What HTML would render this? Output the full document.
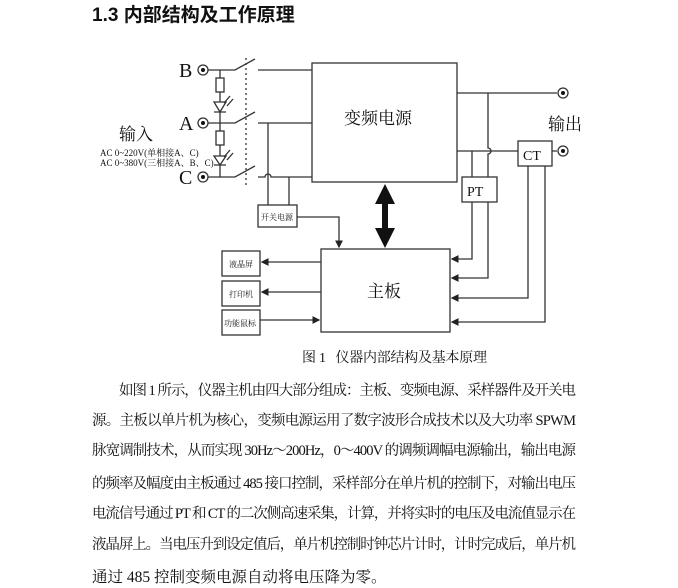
<!DOCTYPE html>
<html><head><meta charset="utf-8"><style>
body{margin:0;width:678px;height:588px;background:#fff;position:relative;overflow:hidden}
</style></head><body>
<div style="position:absolute;left:92px;top:0px;font-family:'Liberation Sans','Noto Sans CJK SC',sans-serif;font-weight:bold;font-size:19px;color:#111">1.3 内部结构及工作原理</div>
<svg width="678" height="588" style="position:absolute;left:0;top:0" font-family="Liberation Serif,Noto Serif CJK SC,serif">
<defs><marker id="a" markerWidth="6" markerHeight="6" refX="5" refY="3" orient="auto"><path d="M0,0L6,3L0,6z" fill="#222"/></marker></defs>
<g stroke="#333" stroke-width="1.3" fill="none">
<rect x="312" y="63" width="145" height="119"/>
<rect x="321" y="249" width="129" height="83"/>
<rect x="462" y="177" width="35" height="25"/>
<rect x="518" y="141" width="34" height="25"/>
<rect x="258" y="205" width="39" height="22"/>
<rect x="222" y="251" width="38" height="25"/>
<rect x="222" y="281" width="38" height="25"/>
<rect x="222" y="310" width="38" height="25"/>
<circle cx="203" cy="70" r="5"/><circle cx="203" cy="123" r="5"/><circle cx="203" cy="177" r="5"/>
<path d="M208 70H235L255 59M258 70H312"/>
<path d="M208 123H235L255 112M258 123H312"/>
<path d="M208 177H235L255 166M258 177H265A3 3 0 0 1 271 177H312"/>
<path d="M246 58V186" stroke-dasharray="2,3"/>
<path d="M220 70V78M220 92V102M220 112V123V131M220 145V156M220 165V177"/>
<rect x="216" y="78" width="8" height="14"/><rect x="216" y="131" width="8" height="14"/>
<path d="M214 102H226L220 112zM214 112H226M214 156H226L220 165zM214 165H226"/>
<path d="M224 103L230 96M227 106L233 99M224 157L230 150M227 160L233 153"/>
<path d="M268 123V205M289 177V205"/>
<path d="M457 93H557M488 93V148A3 3 0 0 1 488 154V177M457 151H518M552 151H557"/>
<circle cx="563" cy="93" r="5"/><circle cx="563" cy="151" r="5"/>
<path d="M472 151V177"/>
<path d="M472 202V259H452" marker-end="url(#a)"/>
<path d="M488 202V278H452" marker-end="url(#a)"/>
<path d="M528 166V298H452" marker-end="url(#a)"/>
<path d="M545 166V322H452" marker-end="url(#a)"/>
<path d="M297 217H339V247" marker-end="url(#a)"/>
<path d="M321 262H262" marker-end="url(#a)"/>
<path d="M321 292H262" marker-end="url(#a)"/>
<path d="M260 320H319" marker-end="url(#a)"/>
</g>
<g fill="#111">
<circle cx="203" cy="70" r="2"/><circle cx="203" cy="123" r="2"/><circle cx="203" cy="177" r="2"/>
<circle cx="563" cy="93" r="2"/><circle cx="563" cy="151" r="2"/>
<path d="M385 184L395 204H388V228H395L385 248L375 228H382V204H375z"/>
</g>
<g fill="#111">
<text x="179" y="77" font-size="20">B</text>
<text x="179" y="130" font-size="20">A</text>
<text x="179" y="184" font-size="20">C</text>
<text x="119" y="140" font-size="17">输入</text>
<text x="100" y="156" font-size="9">AC 0~220V(单相接A、C)</text>
<text x="100" y="166" font-size="9">AC 0~380V(三相接A、B、C)</text>
<text x="548" y="130" font-size="17">输出</text>
<text x="344" y="124" font-size="17">变频电源</text>
<text x="367" y="297" font-size="17">主板</text>
<text x="467" y="196" font-size="14">PT</text>
<text x="523" y="160" font-size="14">CT</text>
<text x="261" y="220" font-size="8">开关电源</text>
<text x="229" y="267" font-size="8">液晶屏</text>
<text x="229" y="297" font-size="8">打印机</text>
<text x="224" y="326" font-size="8">功能鼠标</text>
</g>
<g fill="#111" font-size="14.5">
<text x="302" y="362" font-size="14" textLength="185" lengthAdjust="spacing">图 1&#160;&#160;&#160;仪器内部结构及基本原理</text>
<text x="119" y="395" textLength="457" lengthAdjust="spacing">如图 1 所示，仪器主机由四大部分组成：主板、变频电源、采样器件及开关电</text>
<text x="92" y="425" textLength="484" lengthAdjust="spacing">源。主板以单片机为核心，变频电源运用了数字波形合成技术以及大功率 SPWM</text>
<text x="92" y="455" textLength="484" lengthAdjust="spacing">脉宽调制技术，从而实现 30Hz～200Hz，0～400V 的调频调幅电源输出，输出电源</text>
<text x="92" y="488" textLength="484" lengthAdjust="spacing">的频率及幅度由主板通过 485 接口控制，采样部分在单片机的控制下，对输出电压</text>
<text x="92" y="518" textLength="484" lengthAdjust="spacing">电流信号通过 PT 和 CT 的二次侧高速采集，计算，并将实时的电压及电流值显示在</text>
<text x="92" y="549" textLength="484" lengthAdjust="spacing">液晶屏上。当电压升到设定值后，单片机控制时钟芯片计时，计时完成后，单片机</text>
<text x="92" y="582" font-size="15.5">通过 485 控制变频电源自动将电压降为零。</text>
</g>
</svg>
</body></html>
